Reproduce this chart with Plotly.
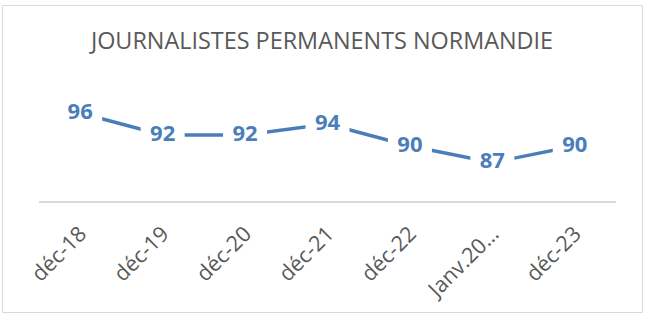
import plotly.graph_objects as go

categories = ["déc-18", "déc-19", "déc-20", "déc-21", "déc-22", "Janv.20…", "déc-23"]
values = [96, 92, 92, 94, 90, 87, 90]
title_text = "JOURNALISTES PERMANENTS NORMANDIE"

BLUE = "#4a7ebb"
GRAY = "#595959"
BORDER = "#d9d9d9"

W, H = 646, 314
L, R, T, B = 39, 30, 91, 113
pw = W - L - R
ph = H - T - B

fig = go.Figure()
fig.add_trace(go.Scatter(
    x=categories,
    y=values,
    mode="lines+markers+text",
    line=dict(color=BLUE, width=3.4),
    marker=dict(symbol="square", size=44, color="white", line=dict(width=0)),
    text=[str(v) for v in values],
    textposition="middle center",
    textfont=dict(family="Open Sans", size=22, color=BLUE, weight="bold"),
    cliponaxis=False,
    hoverinfo="skip",
))

# outer chart border
fig.add_shape(
    type="rect", xref="paper", yref="paper",
    x0=(2.5 - L) / pw, x1=(642.5 - L) / pw,
    y0=(T + ph - 312.5) / ph, y1=(T + ph - 5.5) / ph,
    line=dict(color=BORDER, width=1), layer="below",
)

fig.update_layout(
    width=W, height=H,
    margin=dict(l=L, r=R, t=T, b=B, autoexpand=False),
    paper_bgcolor="white", plot_bgcolor="white",
    showlegend=False,
    title=dict(
        text=title_text,
        x=322 / W, xanchor="center",
        y=1 - 41 / H, yanchor="middle",
        font=dict(family="Open Sans", size=23.4, color=GRAY),
    ),
    xaxis=dict(
        type="category",
        range=[-0.5, len(categories) - 0.5],
        showline=True, linecolor=BORDER, linewidth=1.5,
        showgrid=False, zeroline=False, ticks="",
        tickangle=-45,
        ticklabelstandoff=10,
        tickfont=dict(family="Open Sans", size=21.5, color=GRAY),
        automargin=False,
        fixedrange=True,
    ),
    yaxis=dict(
        range=[80, 100],
        visible=False,
        showgrid=False, zeroline=False,
        fixedrange=True,
    ),
)

fig.write_html(
    "out.html",
    config={"displayModeBar": False},
    post_script="document.body.style.margin='0';document.body.style.overflow='hidden';",
)
